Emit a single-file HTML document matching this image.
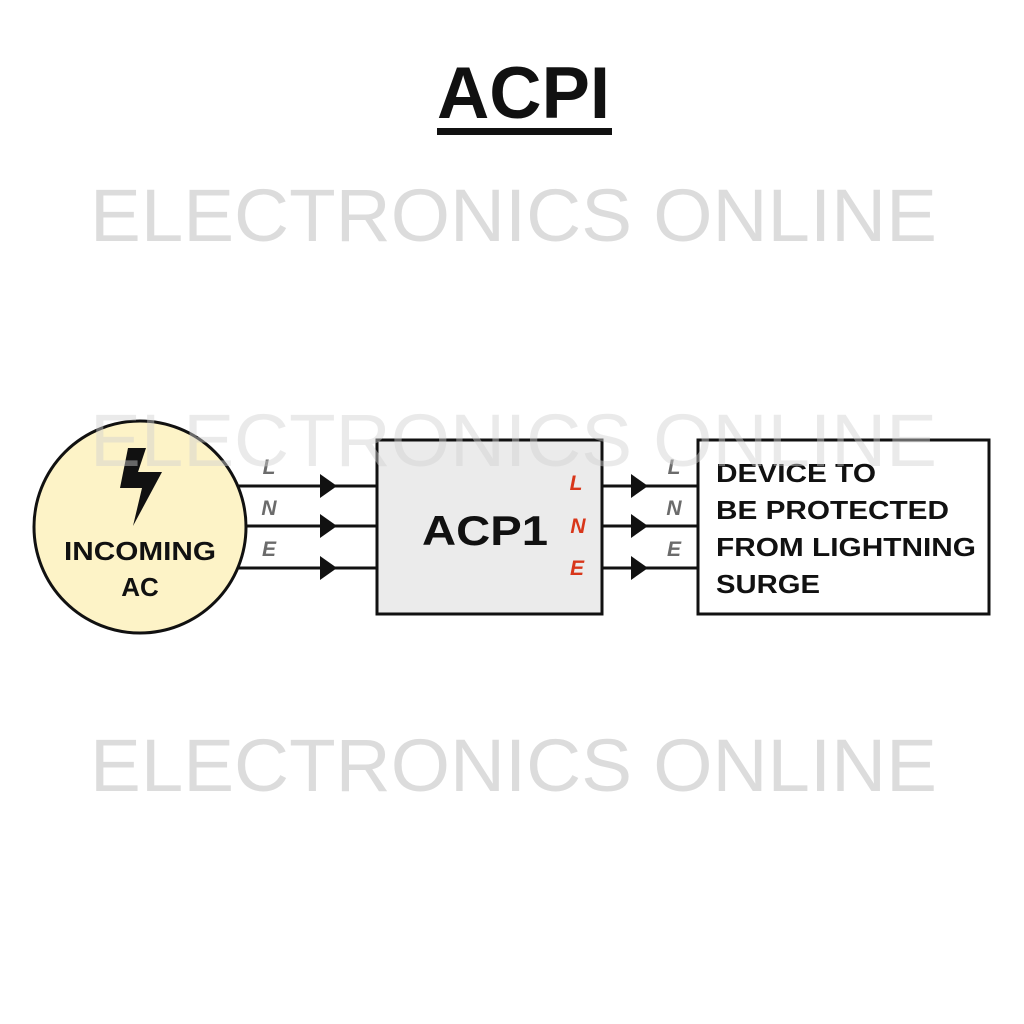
<!DOCTYPE html>
<html><head><style>html,body{margin:0;padding:0;background:#fff}svg{display:block;font-family:"Liberation Sans",Arial,sans-serif}.b{font-weight:700}</style></head>
<body>
<svg width="1024" height="1024" viewBox="0 0 1024 1024" xmlns="http://www.w3.org/2000/svg">
<rect width="1024" height="1024" fill="#fff"/>
<text x="437" y="118" font-size="73" class="b" fill="#111" textLength="173" lengthAdjust="spacingAndGlyphs">ACPI</text>
<rect x="437" y="128" width="175" height="7" fill="#111"/>
<g fill="#dcdcdc" font-size="74">
<text x="90" y="241" textLength="847" lengthAdjust="spacingAndGlyphs">ELECTRONICS ONLINE</text>
<text x="90" y="791" textLength="847" lengthAdjust="spacingAndGlyphs">ELECTRONICS ONLINE</text>
</g>
<g stroke="#111" stroke-width="3">
<line x1="238" y1="486" x2="377" y2="486"/><line x1="245" y1="526" x2="377" y2="526"/><line x1="238" y1="568" x2="377" y2="568"/>
<line x1="602" y1="486" x2="698" y2="486"/><line x1="602" y1="526" x2="698" y2="526"/><line x1="602" y1="568" x2="698" y2="568"/>
</g>
<g fill="#111">
<polygon points="320,474 337,486 320,498"/><polygon points="320,514 337,526 320,538"/><polygon points="320,556 337,568 320,580"/>
<polygon points="631,474 648,486 631,498"/><polygon points="631,514 648,526 631,538"/><polygon points="631,556 648,568 631,580"/>
</g>
<circle cx="140" cy="527" r="106" fill="#fdf3c7" stroke="#111" stroke-width="3"/>
<polygon points="128,448 146,448 138,472 162,472 133,526 142,488 120,488" fill="#111"/>
<text x="140" y="560" font-size="26" class="b" text-anchor="middle" fill="#111" textLength="152" lengthAdjust="spacingAndGlyphs">INCOMING</text>
<text x="140" y="596" font-size="26" class="b" text-anchor="middle" fill="#111">AC</text>
<g font-size="21" class="b" font-style="italic" fill="#6b6b6b" text-anchor="middle">
<text x="269" y="474">L</text><text x="269" y="515">N</text><text x="269" y="556">E</text>
<text x="674" y="474">L</text><text x="674" y="515">N</text><text x="674" y="556">E</text>
</g>
<rect x="377" y="440" width="225" height="174" fill="#ebebeb" stroke="#111" stroke-width="3"/>
<text x="422" y="545" font-size="42" class="b" fill="#111" textLength="126" lengthAdjust="spacingAndGlyphs">ACP1</text>
<g font-size="21" class="b" font-style="italic" fill="#d8361a" text-anchor="middle">
<text x="576" y="490">L</text><text x="578" y="533">N</text><text x="577" y="575">E</text>
</g>
<rect x="698" y="440" width="291" height="174" fill="#fff" stroke="#111" stroke-width="3"/>
<g font-size="26" class="b" fill="#111">
<text x="716" y="482" textLength="160" lengthAdjust="spacingAndGlyphs">DEVICE TO</text>
<text x="716" y="519" textLength="233" lengthAdjust="spacingAndGlyphs">BE PROTECTED</text>
<text x="716" y="556" textLength="260" lengthAdjust="spacingAndGlyphs">FROM LIGHTNING</text>
<text x="716" y="593" textLength="104" lengthAdjust="spacingAndGlyphs">SURGE</text>
</g>
<text x="90" y="466" font-size="74" fill="#d0d0d0" fill-opacity="0.45" textLength="847" lengthAdjust="spacingAndGlyphs">ELECTRONICS ONLINE</text>
</svg>
</body></html>
